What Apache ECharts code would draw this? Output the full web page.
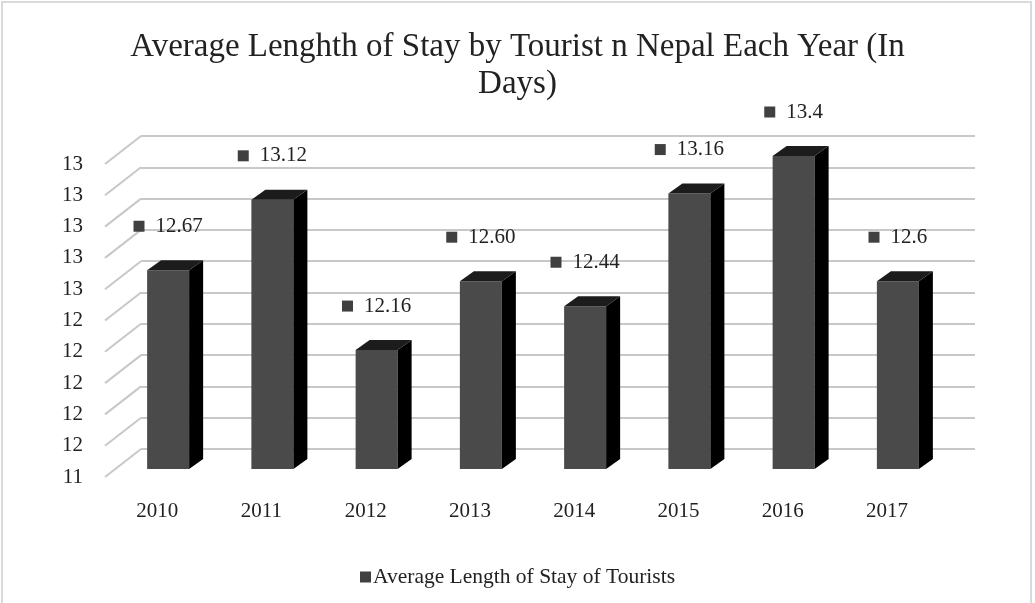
<!DOCTYPE html>
<html>
<head>
<meta charset="utf-8">
<script src="https://cdn.jsdelivr.net/npm/echarts@6/dist/echarts.min.js"></script>
<style>
html,body{margin:0;padding:0;background:#fff;}
#chart{width:1035px;height:603px;}
</style>
</head>
<body>
<div id="chart"></div>
<script>
// ---- data ----
const years = ['2010','2011','2012','2013','2014','2015','2016','2017'];
const stayDays = [12.67, 13.12, 12.16, 12.60, 12.44, 13.16, 13.4, 12.6];
const stayLabels = ['12.67','13.12','12.16','12.60','12.44','13.16','13.4','12.6'];
const yTicks = [11.4, 11.6, 11.8, 12.0, 12.2, 12.4, 12.6, 12.8, 13.0, 13.2, 13.4];
const yTickLabels = ['11','12','12','12','12','12','13','13','13','13','13'];
const seriesName = 'Average Length of Stay of Tourists';
const titleText = 'Average Lenghth of Stay by Tourist n Nepal Each Year (In\nDays)';

const FONT = "'Liberation Serif', 'Times New Roman', serif";
const yMin = yTicks[0], yMax = yTicks[yTicks.length - 1], yStep = 0.2;

const chart = echarts.init(document.getElementById('chart'));

function barItem(params, api) {
  const i = api.value(0), v = api.value(1);
  const top = api.coord([i, v]);
  const base = api.coord([i, yMin]);
  const cx = top[0] - 25, hw = 21, dx = 14, dy = 10, f = 20;
  const yt = top[1] + f, yb = base[1] + f;
  return {
    type: 'group',
    children: [
      { type: 'rect', shape: { x: cx - hw, y: yt, width: hw * 2, height: yb - yt },
        style: { fill: '#4a4a4a' } },
      { type: 'polygon', shape: { points: [[cx + hw, yt], [cx + hw + dx, yt - dy], [cx + hw + dx, yb - dy], [cx + hw, yb]] },
        style: { fill: '#000' } },
      { type: 'polygon', shape: { points: [[cx - hw, yt], [cx - hw + dx, yt - dy], [cx + hw + dx, yt - dy], [cx + hw, yt]] },
        style: { fill: '#1c1c1c' } },
      { type: 'text', x: cx, y: yt - 44,
        style: { text: '{s| }{g| }{v|' + stayLabels[params.dataIndex] + '}',
          align: 'center', verticalAlign: 'middle',
          rich: {
            s: { width: 11, height: 11, backgroundColor: '#404040' },
            g: { width: 11 },
            v: { fontFamily: FONT, fontSize: 21, fill: '#222', color: '#222' }
          } } }
    ]
  };
}

function diagItem(params, api) {
  const p = api.coord([0, api.value(1)]);
  const x0 = params.coordSys.x;
  return { type: 'line', shape: { x1: x0, y1: p[1], x2: x0 - 36, y2: p[1] + 28 },
    style: { stroke: '#c8c8c8', lineWidth: 2 } };
}

const option = {
  backgroundColor: '#fff',
  animation: false,
  title: {
    text: titleText, left: 'center', top: 24,
    textStyle: { fontFamily: FONT, fontSize: 33, fontWeight: 'normal', color: '#222', lineHeight: 37 }
  },
  legend: {
    data: [seriesName], bottom: 10, left: 'center', icon: 'rect', itemWidth: 11, itemHeight: 11,
    textStyle: { fontFamily: FONT, fontSize: 21.5, color: '#222', padding: [0, 0, 0, -3] }
  },
  graphic: [{ type: 'rect', shape: { x: 2, y: 2, width: 1029, height: 620 },
    style: { fill: 'none', stroke: '#d9d9d9', lineWidth: 2 }, silent: true }],
  grid: [
    { left: 141, right: 60, top: 136, bottom: 154 },
    { left: 105, right: 96, top: 164, bottom: 126 }
  ],
  xAxis: [
    { type: 'category', data: years, gridIndex: 0, show: false },
    { type: 'category', data: years, gridIndex: 1,
      axisLine: { show: false }, axisTick: { show: false },
      axisLabel: { fontFamily: FONT, fontSize: 21, color: '#222', margin: 24 } }
  ],
  yAxis: [
    { type: 'value', gridIndex: 0, min: yMin, max: yMax, interval: yStep,
      axisLine: { show: false }, axisTick: { show: false }, axisLabel: { show: false },
      splitLine: { lineStyle: { color: '#c8c8c8', width: 2 } } },
    { type: 'value', gridIndex: 1, min: yMin, max: yMax, interval: yStep,
      axisLine: { show: false }, axisTick: { show: false }, splitLine: { show: false },
      axisLabel: { fontFamily: FONT, fontSize: 21, color: '#222', margin: 22,
        formatter: function (val) {
          const k = yTicks.findIndex(t => Math.abs(t - val) < 1e-6);
          return k >= 0 ? yTickLabels[k] : '';
        } } }
  ],
  series: [
    { type: 'custom', xAxisIndex: 0, yAxisIndex: 0, silent: true,
      data: yTicks.map(t => [0, t]), encode: { x: 0, y: 1 }, renderItem: diagItem, z: 1 },
    { type: 'custom', name: seriesName, xAxisIndex: 0, yAxisIndex: 0,
      itemStyle: { color: '#404040' },
      data: stayDays.map((v, i) => [i, v]), encode: { x: 0, y: 1 }, renderItem: barItem, z: 5 }
  ]
};
chart.setOption(option);
</script>
</body>
</html>
